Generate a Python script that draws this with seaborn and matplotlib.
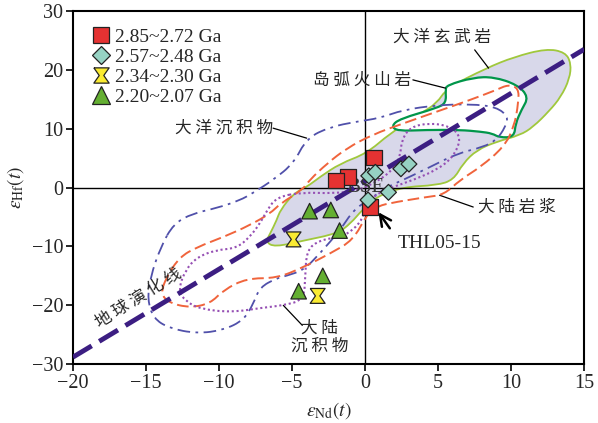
import matplotlib
matplotlib.use('Agg')
import pandas as pd
import matplotlib.pyplot as plt
from matplotlib.path import Path
from matplotlib.patches import PathPatch
import seaborn as sns

# echantillons (epsilon Nd, epsilon Hf)
sq_x = [0.6, -1.2, -2.0, 0.35]
sq_y = [5.1, 1.8, 1.2, -3.3]
dia_x = [0.25, 0.7, 2.45, 3.0, 1.6, 0.2]
dia_y = [2.0, 2.6, 3.2, 4.0, -0.8, -2.1]
hg_x = [-4.9, -3.25]
hg_y = [-8.8, -18.4]
tri_x = [-3.8, -2.35, -1.75, -2.9, -4.55]
tri_y = [-4.0, -3.8, -7.3, -15.0, -17.6]
groups = ['2.85~2.72 Ga', '2.57~2.48 Ga', '2.34~2.30 Ga', '2.20~2.07 Ga']

# ligne d'evolution terrestre
earth_x = [-20, 15]
earth_y = [-28.8, 23.5]

# champs de reference
basalt_x = [-6.8, -6.2, -4.2, -1.9, -1.0, -0.2, 0.8, 2.6, 4.9, 6.05, 6.7, 7.65, 9.0, 10.6, 11.5,
            12.6, 13.4, 14.0, 14.1, 13.7, 12.4, 10.2, 8.3, 5.6, 4.9, 3.8, 1.7, 0.1, -1.7, -3.1,
            -4.0, -4.9, -5.8, -6.05, -6.5]
basalt_y = [-9.2, -10.1, -9.0, -7.8, -6.1, -3.8, -1.5, 0.1, 0.4, 1.3, 4.1, 6.4, 7.8, 8.9, 10.3,
            13.0, 15.4, 18.5, 21.1, 23.0, 23.6, 22.2, 20.3, 16.9, 14.3, 12.6, 9.2, 5.8, 4.1, 1.8,
            0.1, -1.0, -3.8, -5.5, -7.8]
arc_x = [5.6, 7.4, 8.8, 10.4, 11.2, 10.7, 10.3, 10.2, 9.2, 8.7, 7.9, 6.5, 4.2, 2.2, 1.8, 2.4,
         4.9, 5.55, 5.5]
arc_y = [17.4, 18.7, 18.8, 17.5, 15.4, 13.2, 10.9, 8.6, 8.5, 9.2, 9.5, 9.8, 9.8, 9.6, 10.5, 11.7,
         13.5, 14.4, 16.6]
ocsed_x = [-13.1, -11.8, -10.2, -8.6, -7.6, -6.3, -4.9, -4.0, -2.4, -0.6, 1.0, 2.6, 4.9, 7.2,
           9.0, 9.8, 9.6, 9.0, 8.1, 6.3, 4.45, 2.6, 1.5, 0.3, -0.8, -1.7, -3.1, -4.2, -5.4, -6.05,
           -7.2, -7.65, -8.3, -9.7, -11.5, -13.4, -14.5, -14.9, -14.7, -14.0]
ocsed_y = [-6.1, -4.4, -3.5, -2.2, -0.8, 1.3, 4.1, 8.4, 10.3, 11.2, 11.8, 13.2, 14.0, 14.2,
           13.7, 12.0, 10.3, 8.1, 6.9, 5.8, 3.5, 1.3, 0.1, -2.0, -3.8, -7.2, -11.2, -14.0, -15.0,
           -15.4, -16.9, -19.7, -22.5, -24.2, -24.8, -23.9, -22.2, -19.0, -15.2, -10.1]
magma_x = [-13.6, -12.7, -11.5, -9.7, -7.9, -6.5, -5.8, -4.3, -3.8, -2.6, -1.25, 0.5, 2.6, 4.9,
           7.2, 9.0, 9.8, 10.5, 10.5, 10.2, 9.5, 7.9, 6.5, 5.4, 4.2, 1.5, 0.8, 0.1, -0.8, -2.4,
           -4.2, -6.05, -8.1, -9.7, -10.6, -12.0, -13.4, -14.0]
magma_y = [-15.2, -11.8, -10.1, -8.4, -6.4, -4.4, -2.7, -0.4, 1.3, 4.1, 6.7, 9.0, 10.9, 12.9,
           14.9, 16.6, 17.5, 16.9, 14.5, 10.3, 6.9, 3.5, 1.3, -1.2, -1.6, -2.7, -3.3, -4.6, -8.9,
           -11.2, -13.5, -15.4, -15.4, -17.4, -19.7, -20.4, -19.6, -18.0]
csed_x = [-6.05, -6.7, -7.2, -7.9, -8.8, -10.2, -11.5, -12.3, -12.8, -12.3, -11.3, -9.2, -7.0,
          -5.6, -4.2, -4.1, -4.0, -3.1, -1.7, -0.8, -0.1, -0.1, 0.8, 1.9, 3.3, 4.9, 6.05, 6.6,
          5.8, 4.45, 3.1, 2.5, 2.4, 1.9, 0.8, -0.5, -2.2, -4.3]
csed_y = [-1.6, -3.8, -6.1, -8.4, -10.3, -10.6, -11.8, -14.0, -17.4, -19.3, -20.6, -21.2, -20.4,
          -20.0, -19.1, -15.2, -10.6, -8.9, -8.4, -7.2, -5.0, -3.3, -1.0, 0.1, 1.3, 3.0, 5.2, 8.6,
          10.4, 11.0, 10.3, 8.1, 5.2, 3.0, 1.0, -0.5, -1.0, -0.8]


def contour(xs, ys):
    # courbe fermee lissee (les points traces servent de points de controle)
    pts = list(zip(xs, ys))
    n = len(pts)
    mids = [((pts[i][0] + pts[(i + 1) % n][0]) / 2, (pts[i][1] + pts[(i + 1) % n][1]) / 2)
            for i in range(n)]
    verts = [mids[-1]]
    codes = [Path.MOVETO]
    for i in range(n):
        verts += [pts[i], mids[i]]
        codes += [Path.CURVE3, Path.CURVE3]
    verts.append(mids[-1])
    codes.append(Path.CLOSEPOLY)
    return Path(verts, codes)


sns.set_style('ticks')
plt.rcParams['font.family'] = ['Liberation Serif', 'DejaVu Serif']
plt.rcParams['mathtext.fontset'] = 'stix'
cjk = ['Noto Sans CJK SC', 'DejaVu Sans']

fig, ax = plt.subplots(figsize=(5.98, 4.23), dpi=100)
fig.subplots_adjust(left=0.122, right=0.977, bottom=0.139, top=0.974)

# champs
ax.add_patch(PathPatch(contour(basalt_x, basalt_y), facecolor='#d8d8ea', edgecolor='#a0c83c',
                       lw=1.3, zorder=1))
ax.add_patch(PathPatch(contour(arc_x, arc_y), facecolor='white', edgecolor='#00964a',
                       lw=1.6, zorder=2))
ax.axhline(0, color='black', lw=1.0, zorder=2.5)
ax.axvline(0, color='black', lw=1.0, zorder=2.5)
ax.add_patch(PathPatch(contour(ocsed_x, ocsed_y), facecolor='none', edgecolor='#5050aa', lw=1.3,
                       linestyle=(0, (7, 3, 1.5, 3)), zorder=3))
ax.add_patch(PathPatch(contour(magma_x, magma_y), facecolor='none', edgecolor='#f0643c', lw=1.4,
                       linestyle=(0, (6, 2.5)), zorder=3))
ax.add_patch(PathPatch(contour(csed_x, csed_y), facecolor='none', edgecolor='#9650b4', lw=1.5,
                       linestyle=(0, (1, 1.3)), zorder=3))
sns.lineplot(x=earth_x, y=earth_y, ax=ax, color='#3c1e82', lw=3.5, dashes=False, zorder=4)
ax.lines[-1].set_dashes((4.5, 1.8))

# points
df = pd.DataFrame({
    'x': sq_x + dia_x + hg_x + tri_x,
    'y': sq_y + dia_y + hg_y + tri_y,
    'groupe': [groups[0]] * len(sq_x) + [groups[1]] * len(dia_x)
              + [groups[2]] * len(hg_x) + [groups[3]] * len(tri_x),
})
hourglass = [(-1, 1), (1, 1), (0.3, 0), (1, -1), (-1, -1), (-0.3, 0), (-1, 1)]
couleurs = ['#e53232', '#96d2c3', '#faeb32', '#64af32']
marqueurs = ['s', 'D', hourglass, '^']
sizes = {groups[0]: 130, groups[1]: 65, groups[2]: 115, groups[3]: 125}
sns.scatterplot(data=df, x='x', y='y', hue='groupe', style='groupe', hue_order=groups,
                style_order=groups, palette=couleurs, markers=marqueurs, size='groupe',
                sizes=sizes, edgecolor='#222222', linewidth=0.9, ax=ax, zorder=5)

h, l = ax.get_legend_handles_labels()
hh = [x for x, t in zip(h, l) if t in groups][:4]
for x, ms in zip(hh, [12, 9.5, 11, 13]):
    x.set_markersize(ms)
ax.legend(hh, groups, loc='upper left', frameon=False, fontsize=14, handletextpad=0.15,
          labelspacing=0.12, borderaxespad=0.5, handlelength=1.1, bbox_to_anchor=(0.0, 1.0))

# textes
ax.text(5.25, 25.6, '大 洋 玄 武 岩', fontsize=12, family=cjk, ha='center', va='center')
ax.plot([7.5, 8.45], [23.4, 20.3], color='black', lw=0.9)
ax.text(-0.2, 18.3, '岛 弧 火 山 岩', fontsize=12, family=cjk, ha='center', va='center')
ax.plot([3.27, 5.5], [18.3, 16.9], color='black', lw=0.9)
ax.text(-9.66, 10.1, '大 洋 沉 积 物', fontsize=12, family=cjk, ha='center', va='center')
ax.plot([-6.3, -4.0], [10.1, 8.4], color='black', lw=0.9)
ax.text(10.4, -3.3, '大 陆 岩 浆', fontsize=12, family=cjk, ha='center', va='center')
ax.plot([5.1, 7.4], [-1.3, -3.3], color='black', lw=0.9)
ax.text(-3.1, -25.4, '大 陆\n沉 积 物', fontsize=12, family=cjk, ha='center', va='center',
        linespacing=1.1)
ax.plot([-5.6, -4.3], [-20.0, -23.4], color='black', lw=0.9)
ax.text(-15.5, -18.8, '地 球 演 化 线', fontsize=12, family=cjk, ha='center', va='center',
        rotation=32)
ax.text(0.0, 0.1, 'BSE', fontsize=15, color='#333333', ha='center', va='center', zorder=4.5)
ax.text(5.07, -9.5, 'THL05-15', fontsize=14, ha='center', va='center')
ax.annotate('', xy=(0.8, -3.8), xytext=(1.8, -7.3),
            arrowprops=dict(arrowstyle='->', color='black', lw=1.8, mutation_scale=20))

ax.set_xlim(-20, 15)
ax.set_ylim(-30, 30)
ax.set_xticks(range(-20, 16, 5))
ax.set_yticks(range(-30, 31, 10))
ax.set_xlabel(r'$\varepsilon_{\rm Nd}(t)$', fontsize=14, labelpad=5)
ax.set_ylabel(r'$\varepsilon_{\rm Hf}(t)$', fontsize=14, labelpad=4)
ax.tick_params(direction='out', length=5, width=1.4, labelsize=14.5, pad=2,
               top=False, right=False)
for s in ax.spines.values():
    s.set_linewidth(1.5)
    s.set_color('black')

fig.savefig('out.png', dpi=100)
